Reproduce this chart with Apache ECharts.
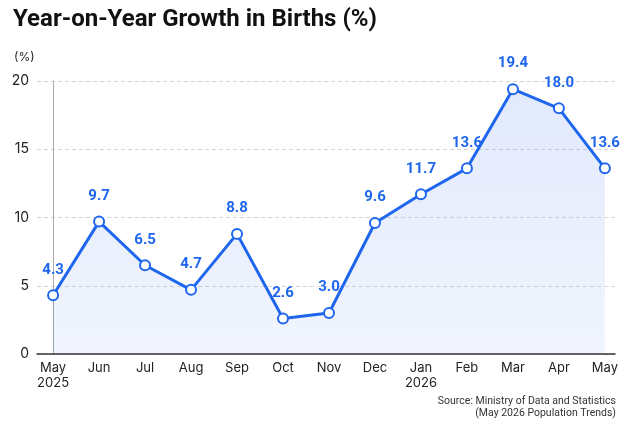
<!DOCTYPE html>
<html>
<head>
<meta charset="utf-8">
<script src="https://cdn.jsdelivr.net/npm/echarts@6/dist/echarts.min.js"></script>
<style>
  html, body { margin: 0; padding: 0; background: #fff; }
  #chart_container { width: 640px; height: 426px; }
</style>
</head>
<body>
<div id="chart_container"></div>
<script>
// months shown on the x axis
var months = ['May\n2025', 'Jun', 'Jul', 'Aug', 'Sep', 'Oct', 'Nov', 'Dec', 'Jan\n2026', 'Feb', 'Mar', 'Apr', 'May'];
// year-on-year growth, %
var growth = [4.3, 9.7, 6.5, 4.7, 8.8, 2.6, 3.0, 9.6, 11.7, 13.6, 19.4, 18.0, 13.6];
var yTicks = [0, 5, 10, 15, 20];

var blue = '#1f66ee';
var font = 'Inter, Roboto, "Noto Sans", sans-serif';

var points = growth.map(function (v, i) { return [i, v]; });
var monthIdx = months.map(function (m, i) { return i; });

var dom = document.getElementById('chart_container');
var myChart = echarts.init(dom);

var option = {
    backgroundColor: '#ffffff',
    animation: false,
    textStyle: { fontFamily: font },
    title: [
        {
            text: 'Year-on-Year Growth in Births (%)',
            left: 13,
            top: 8,
            padding: 0,
            textStyle: { fontSize: 24, fontWeight: 'bold', color: '#111', fontFamily: 'Roboto, Inter, sans-serif' }
        },
        {
            text: '(%)',
            left: 14,
            top: 51,
            padding: 0,
            textStyle: { fontSize: 12, fontWeight: 'normal', color: '#222', fontFamily: font }
        },
        {
            text: 'Source: Ministry of Data and Statistics',
            right: 24,
            top: 396,
            padding: 0,
            textStyle: { fontSize: 10.5, fontWeight: 'normal', color: '#333', fontFamily: 'Roboto, sans-serif' }
        },
        {
            text: '(May 2026 Population Trends)',
            right: 24,
            top: 408,
            padding: 0,
            textStyle: { fontSize: 10.5, fontWeight: 'normal', color: '#333', fontFamily: 'Roboto, sans-serif' }
        }
    ],
    grid: { left: 37, right: 25, top: 81, bottom: 72, containLabel: false },
    xAxis: {
        type: 'value',
        min: -0.35,
        max: 12.22,
        splitLine: { show: false },
        axisLine: { show: true, lineStyle: { color: '#333', width: 1.5 } },
        axisTick: { show: false },
        axisLabel: {
            customValues: monthIdx,
            formatter: function (v) { return months[Math.round(v)]; },
            color: '#222',
            fontSize: 13,
            lineHeight: 15,
            margin: 7,
            hideOverlap: false
        }
    },
    yAxis: {
        type: 'value',
        min: 0,
        max: 20,
        interval: 5,
        axisLine: { show: true, lineStyle: { color: '#aaa', width: 1 } },
        axisTick: { show: false },
        axisLabel: {
            customValues: yTicks,
            color: '#222',
            fontSize: 14,
            margin: 8
        },
        splitLine: {
            show: true,
            lineStyle: { color: '#d6d6d6', type: [4, 3], width: 1 }
        }
    },
    series: [
        {
            type: 'line',
            data: points,
            symbol: 'circle',
            symbolSize: 10,
            showSymbol: true,
            lineStyle: { color: blue, width: 3 },
            itemStyle: { color: '#fff', borderColor: blue, borderWidth: 2 },
            areaStyle: {
                color: new echarts.graphic.LinearGradient(0, 0, 0, 1, [
                    { offset: 0, color: 'rgba(31,90,230,0.19)' },
                    { offset: 1, color: 'rgba(31,90,230,0.09)' }
                ])
            },
            label: {
                show: true,
                position: 'top',
                distance: 12,
                formatter: function (p) { return p.value[1].toFixed(1); },
                color: blue,
                fontSize: 15,
                fontWeight: 'bold',
                fontFamily: 'Roboto, Inter, sans-serif'
            },
            z: 3
        }
    ]
};

myChart.setOption(option, true);
myChart.resize();
</script>
</body>
</html>
